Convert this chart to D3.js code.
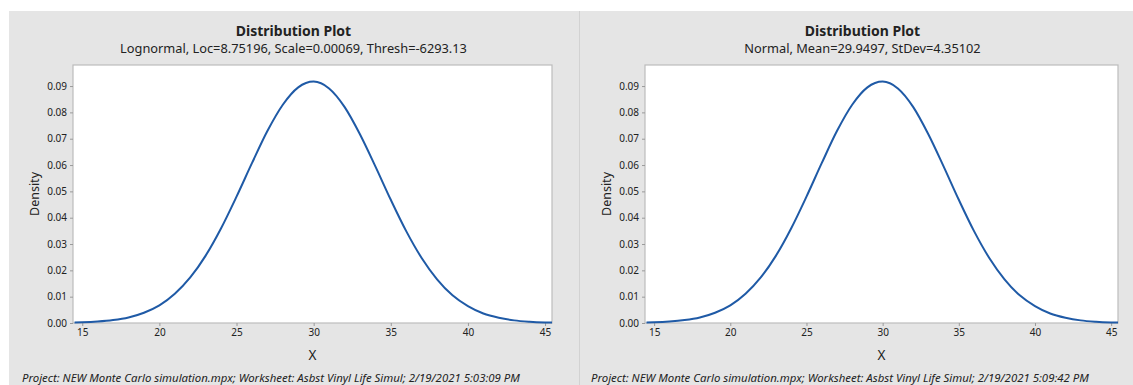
<!DOCTYPE html>
<html>
<head>
<meta charset="utf-8">
<script src="https://cdn.jsdelivr.net/npm/d3@7"></script>
<style>
  body { margin: 0; background: #fff; }
  svg text { font-family: "Noto Sans", "Open Sans", sans-serif; fill: #222; }
</style>
</head>
<body>
<svg id="chart" width="1133" height="385"></svg>
<script>
// Datos (densidad en cada valor de X)
const xValues = [14.5, 15, 16, 17, 18, 19, 20, 21, 22, 23, 24, 25, 26, 27, 28, 29, 30,
	31, 32, 33, 34, 35, 36, 37, 38, 39, 40, 41, 42, 43, 44, 45, 45.5];
const leftDensity = [0.00017, 0.00025, 0.00054, 0.0011, 0.0021, 0.0039, 0.0067, 0.0111, 0.0173,
	0.0256, 0.036, 0.048, 0.0607, 0.0729, 0.0829, 0.0895, 0.0917, 0.0891, 0.0821, 0.0717, 0.0595,
	0.0468, 0.0349, 0.0247, 0.0166, 0.0105, 0.0064, 0.0036, 0.002, 0.001, 0.0005, 0.00023, 0.00015];
const rightDensity = [0.00017, 0.00025, 0.00054, 0.0011, 0.0021, 0.0039, 0.0067, 0.0111, 0.0173,
	0.0256, 0.036, 0.048, 0.0607, 0.0729, 0.0829, 0.0895, 0.0917, 0.0891, 0.0821, 0.0717, 0.0595,
	0.0468, 0.0349, 0.0247, 0.0166, 0.0105, 0.0064, 0.0036, 0.002, 0.001, 0.0005, 0.00023, 0.00015];
const xTicks = [15, 20, 25, 30, 35, 40, 45];
const yTicks = [0, 0.01, 0.02, 0.03, 0.04, 0.05, 0.06, 0.07, 0.08, 0.09];

const panels = [
	{
		x0: 9, x1: 579, plotLeft: 73, plotRight: 552,
		title: 'Distribution Plot',
		subtitle: 'Lognormal, Loc=8.75196, Scale=0.00069, Thresh=-6293.13',
		footer: 'Project: NEW Monte Carlo simulation.mpx; Worksheet: Asbst Vinyl Life Simul; 2/19/2021 5:03:09 PM',
		footerX: 22,
		density: leftDensity,
	},
	{
		x0: 580, x1: 1133, plotLeft: 645, plotRight: 1118,
		title: 'Distribution Plot',
		subtitle: 'Normal, Mean=29.9497, StDev=4.35102',
		footer: 'Project: NEW Monte Carlo simulation.mpx; Worksheet: Asbst Vinyl Life Simul; 2/19/2021 5:09:42 PM',
		footerX: 591,
		density: rightDensity,
	},
];

const svg = d3.select('#chart');
const plotTop = 65;
const plotBottom = 323;

panels.forEach((p, i) => {
	const g = svg.append('g');

	// Fondo gris del panel
	g.append('rect')
		.attr('x', p.x0)
		.attr('y', 11)
		.attr('width', p.x1 - p.x0)
		.attr('height', 385 - 11)
		.attr('fill', '#e5e5e5');

	// Área del gráfico
	g.append('rect')
		.attr('x', p.plotLeft)
		.attr('y', plotTop)
		.attr('width', p.plotRight - p.plotLeft)
		.attr('height', plotBottom - plotTop)
		.attr('fill', '#fff')
		.attr('stroke', '#bcbcbc')
		.attr('stroke-width', 1.2);

	const x = d3.scaleLinear().domain([14.4, 45.45]).range([p.plotLeft, p.plotRight]);
	const y = d3.scaleLinear().domain([0, 0.098]).range([plotBottom, plotTop]);

	// Ejes
	const xAxis = g.append('g')
		.attr('transform', `translate(0,${plotBottom})`)
		.call(d3.axisBottom(x).tickValues(xTicks).tickSize(3).tickPadding(3).tickFormat(d3.format('d')));
	const yAxis = g.append('g')
		.attr('transform', `translate(${p.plotLeft},0)`)
		.call(d3.axisLeft(y).tickValues(yTicks).tickSize(3).tickPadding(3).tickFormat(d3.format('.2f')));
	[xAxis, yAxis].forEach((a) => {
		a.select('.domain').remove();
		a.selectAll('line').attr('stroke', '#9a9a9a');
		a.selectAll('text').attr('font-size', 10).attr('fill', '#333');
	});

	// Curva de densidad
	const clipId = `clip${i}`;
	g.append('clipPath').attr('id', clipId)
		.append('rect')
		.attr('x', p.plotLeft)
		.attr('y', plotTop)
		.attr('width', p.plotRight - p.plotLeft)
		.attr('height', plotBottom - plotTop + 1);

	const line = d3.line()
		.x((d) => x(d[0]))
		.y((d) => y(d[1]))
		.curve(d3.curveMonotoneX);

	g.append('path')
		.datum(xValues.map((v, k) => [v, p.density[k]]))
		.attr('clip-path', `url(#${clipId})`)
		.attr('fill', 'none')
		.attr('stroke', '#1f5aa6')
		.attr('stroke-width', 2)
		.attr('d', line);

	// Textos
	const cx = (p.plotLeft + p.plotRight) / 2 - 19;
	g.append('text')
		.attr('x', cx).attr('y', 36)
		.attr('text-anchor', 'middle')
		.attr('font-size', 14)
		.attr('font-weight', 'bold')
		.text(p.title);
	g.append('text')
		.attr('x', cx).attr('y', 53)
		.attr('text-anchor', 'middle')
		.attr('font-size', 12.8)
		.text(p.subtitle);
	g.append('text')
		.attr('x', (p.plotLeft + p.plotRight) / 2).attr('y', 360)
		.attr('text-anchor', 'middle')
		.attr('font-size', 13.5)
		.text('X');
	g.append('text')
		.attr('transform', `translate(${p.plotLeft - 34},${(plotTop + plotBottom) / 2}) rotate(-90)`)
		.attr('text-anchor', 'middle')
		.attr('font-size', 12.5)
		.text('Density');
	g.append('text')
		.attr('x', p.footerX).attr('y', 382)
		.attr('font-size', 11.4)
		.attr('font-style', 'italic')
		.text(p.footer);
});

// Línea divisoria entre paneles
svg.append('line')
	.attr('x1', 579.5).attr('x2', 579.5)
	.attr('y1', 11).attr('y2', 385)
	.attr('stroke', '#d2d2d2');
</script>
</body>
</html>
